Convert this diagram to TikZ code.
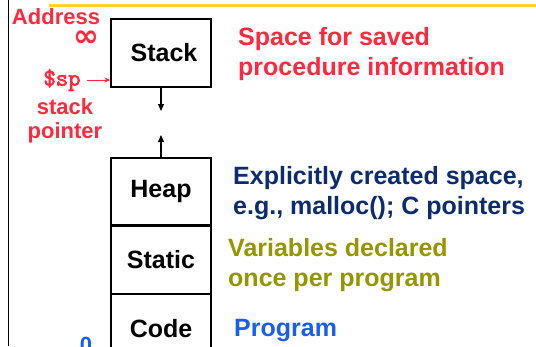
\documentclass[tikz,border=0pt]{standalone}
\usepackage{fontspec}
\setmainfont{Liberation Sans}
\newfontfamily\symfont{DejaVu Sans}
\newfontfamily\spmono[FakeBold=2.5]{Latin Modern Mono}
\usetikzlibrary{arrows.meta}
\usetikzlibrary{positioning}

\definecolor{memred}{RGB}{255,40,60}
\definecolor{heapblue}{RGB}{12,44,110}
\definecolor{staticolive}{RGB}{150,150,0}
\definecolor{codeblue}{RGB}{25,95,235}
\definecolor{titleyellow}{RGB}{255,215,40}

\tikzset{
  segment/.style={draw,line width=1.3pt,minimum width=100pt,minimum height=67pt,
    inner sep=0pt,font=\fontsize{25}{28}\selectfont\bfseries},
  note/.style={anchor=west,align=left,inner sep=0pt,
    font=\fontsize{25}{30.5}\selectfont\bfseries},
  side/.style={text=memred,inner sep=0pt,font=\fontsize{22}{26}\selectfont\bfseries},
  growarrow/.style={line width=1.2pt,-{Triangle[length=7pt,width=6pt]}}
}

\begin{document}
\begin{tikzpicture}[x=1pt,y=-1pt]
    \useasboundingbox (0,0) rectangle (536,346);
    \clip (0,0) rectangle (536,346);

    % slide frame
    \draw[line width=0.8pt] (8,0) -- (8,346);
    \draw[titleyellow,line width=3pt] (49,5) -- (536,5);

    % memory segments
    \node[segment,minimum height=68pt] (stack) at (161,53) {\hspace{6pt}Stack};
    \node[segment] (heap) at (161,191.5) {Heap};
    \node[segment] (static) [below=0pt of heap] {Static};
    \node[segment] (code) [below=0pt of static] {Code};

    \coordinate (stackend) at (161,111);
    \coordinate (heapend) at (161,135);
    \draw[growarrow] (stack.south) -- (stackend);
    \draw[growarrow] (heap.north) -- (heapend);

    % left side
    \node[side] (address) at (56,17) {Address};
    \node[side,font=\fontsize{31}{31}\selectfont\symfont\bfseries,text height=9pt,text depth=0pt] (infty) at (86,42) {∞};
    \node[side,font=\fontsize{24}{26}\selectfont\spmono] (sp) at (62,80) {\$sp};
    \draw[memred,line width=1pt,-{Stealth[length=6pt,width=5pt]}] (sp.east) ++(6,0) coordinate (spstart) -- (stack.west |- spstart);
    \node[side] (stk) at (65,107) {stack};
    \node[side] (ptr) at (65,133) {pointer};
    \node[side,text=codeblue] (zero) at (86,345) {0};

    % right side
    \node[note,text=memred] (stacknote) at (238,54) {Space for saved\\procedure information};
    \node[note,text=heapblue] (heapnote) at (233,193) {Explicitly created space,\\e.g., malloc(); C pointers};
    \node[note,text=staticolive] (staticnote) at (228,265) {Variables declared\\once per program};
    \node[note,text=codeblue] (codenote) at (234,331) {Program};
\end{tikzpicture}
\end{document}
